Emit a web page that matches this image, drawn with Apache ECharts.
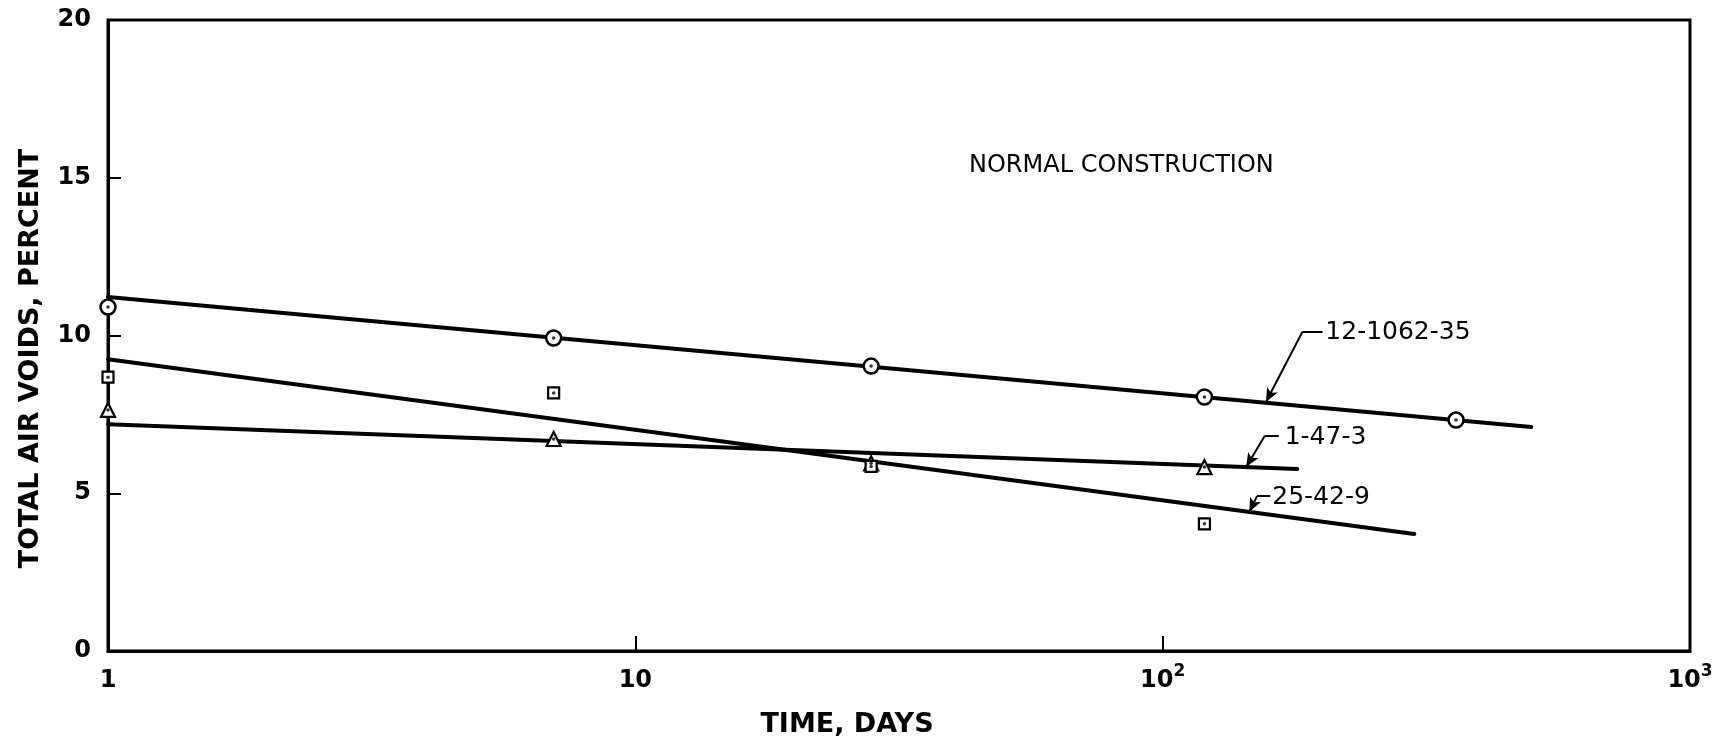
<!DOCTYPE html>
<html>
<head>
<meta charset="utf-8">
<script src="https://cdn.jsdelivr.net/npm/echarts@6/dist/echarts.min.js"></script>
<style>
html,body{margin:0;padding:0;background:#fff;}
#chart{width:1720px;height:744px;}
</style>
</head>
<body>
<div id="chart"></div>
<script>
// ---- data ----
const seriesNames = ['12-1062-35', '1-47-3', '25-42-9'];
const days12 = [1, 7, 28, 120, 360];
const voids12 = [10.9, 9.92, 9.03, 8.05, 7.32];
const days1 = [1, 7, 28, 120];
const voids1 = [7.64, 6.72, 5.95, 5.83];
const days25 = [1, 7, 28, 120];
const voids25 = [8.68, 8.18, 5.85, 4.03];
// fitted straight lines (on log time)
const fitDays12 = [1, 500];
const fitVoids12 = [11.22, 7.1];
const fitDays1 = [1, 180];
const fitVoids1 = [7.19, 5.77];
const fitDays25 = [1, 300];
const fitVoids25 = [9.25, 3.71];
const yTicks = [0, 5, 10, 15, 20];
const xTicks = [1, 10, 100, 1000];

const zip = (xs, ys) => xs.map((x, i) => [x, ys[i]]);
const FONT = 'DejaVu Sans';
const BLACK = '#000';

function lineSeries(name, xs, ys, ann) {
  return {
    name: name, type: 'line', data: zip(xs, ys), symbol: 'none', z: 2,
    lineStyle: {color: BLACK, width: 4, cap: 'round'},
    silent: true,
    markLine: {
      silent: true, animation: false,
      symbol: ['none', 'arrow'], symbolSize: 12,
      lineStyle: {color: BLACK, width: 2, type: 'solid'},
      label: {show: false},
      data: [
        [{coord: ann.corner, symbol: 'none'}, {coord: ann.tip, symbol: 'arrow', symbolSize: [9, 14]}],
        [{coord: ann.corner, symbol: 'none'}, {coord: ann.hEnd, symbol: 'none'}]
      ]
    },
    markPoint: {
      silent: true, animation: false,
      symbol: 'circle', symbolSize: 1, itemStyle: {color: 'rgba(0,0,0,0)'},
      label: {show: true, position: 'right', distance: 0, formatter: name,
              color: BLACK, fontFamily: FONT, fontSize: 25},
      data: [{coord: ann.text}]
    }
  };
}

function markerSeries(xs, ys, symbol, size, bw) {
  return [{
    type: 'scatter', data: zip(xs, ys), symbol: symbol, symbolSize: size, z: 5, silent: true,
    itemStyle: {color: '#fff', borderColor: BLACK, borderWidth: bw, opacity: 1}
  }, {
    type: 'scatter', data: zip(xs, ys), symbol: 'circle', symbolSize: 3.5, z: 6, silent: true,
    itemStyle: {color: BLACK}
  }];
}

const chart = echarts.init(document.getElementById('chart'));
chart.setOption({
  animation: false,
  backgroundColor: '#fff',
  title: {
    text: 'NORMAL CONSTRUCTION', left: 964, top: 149,
    textStyle: {fontFamily: FONT, fontSize: 24, fontWeight: 'normal', color: BLACK}
  },
  grid: {left: 108, right: 30, top: 20, bottom: 93, show: true, borderColor: BLACK, borderWidth: 3, backgroundColor: 'transparent'},
  xAxis: {
    type: 'log', logBase: 10, min: xTicks[0], max: xTicks[xTicks.length - 1],
    name: 'TIME, DAYS', nameLocation: 'middle', nameGap: 60,
    nameTextStyle: {fontFamily: FONT, fontSize: 27, fontWeight: 'bold', color: BLACK, padding: [0, 104, 0, 0]},
    axisLine: {show: true, lineStyle: {color: BLACK, width: 3}},
    axisTick: {show: true, inside: true, length: 15, lineStyle: {color: BLACK, width: 2}},
    minorTick: {show: false},
    splitLine: {show: false},
    axisLabel: {
      margin: 12, color: BLACK, showMaxLabel: true, showMinLabel: true,
      formatter: function (v) {
        const e = Math.round(Math.log10(v));
        if (e <= 1) return '{b|' + Math.round(v) + '}';
        return '{b|10}{s|' + e + '}';
      },
      rich: {
        b: {fontFamily: FONT, fontSize: 24, fontWeight: 'bold', color: BLACK, lineHeight: 30, verticalAlign: 'bottom'},
        s: {fontFamily: FONT, fontSize: 17, fontWeight: 'bold', color: BLACK, lineHeight: 30, verticalAlign: 'top'}
      }
    }
  },
  yAxis: {
    type: 'value', min: yTicks[0], max: yTicks[yTicks.length - 1], interval: 5,
    name: 'TOTAL AIR VOIDS, PERCENT', nameLocation: 'middle', nameGap: 64,
    nameTextStyle: {fontFamily: FONT, fontSize: 27, fontWeight: 'bold', color: BLACK, padding: [0, 46, 0, 0]},
    axisLine: {show: true, lineStyle: {color: BLACK, width: 3}},
    axisTick: {show: true, inside: true, length: 13, lineStyle: {color: BLACK, width: 2}},
    splitLine: {show: false},
    axisLabel: {margin: 17, color: BLACK, fontFamily: FONT, fontSize: 24, fontWeight: 'bold'}
  },
  series: [
    lineSeries(seriesNames[0], fitDays12, fitVoids12,
      {corner: [184, 10.11], hEnd: [201, 10.11], tip: [157, 7.89], text: [203, 10.11]}),
    lineSeries(seriesNames[1], fitDays1, fitVoids1,
      {corner: [156, 6.81], hEnd: [166, 6.81], tip: [144, 5.83], text: [170, 6.78]}),
    lineSeries(seriesNames[2], fitDays25, fitVoids25,
      {corner: [151, 4.91], hEnd: [160, 4.91], tip: [146, 4.41], text: [161, 4.88]}),
    ...markerSeries(days12, voids12, 'circle', 15, 2.5),
    ...markerSeries(days1, voids1, 'triangle', 14, 2.2),
    ...markerSeries(days25, voids25, 'rect', 11, 2.2)
  ]
});
</script>
</body>
</html>
